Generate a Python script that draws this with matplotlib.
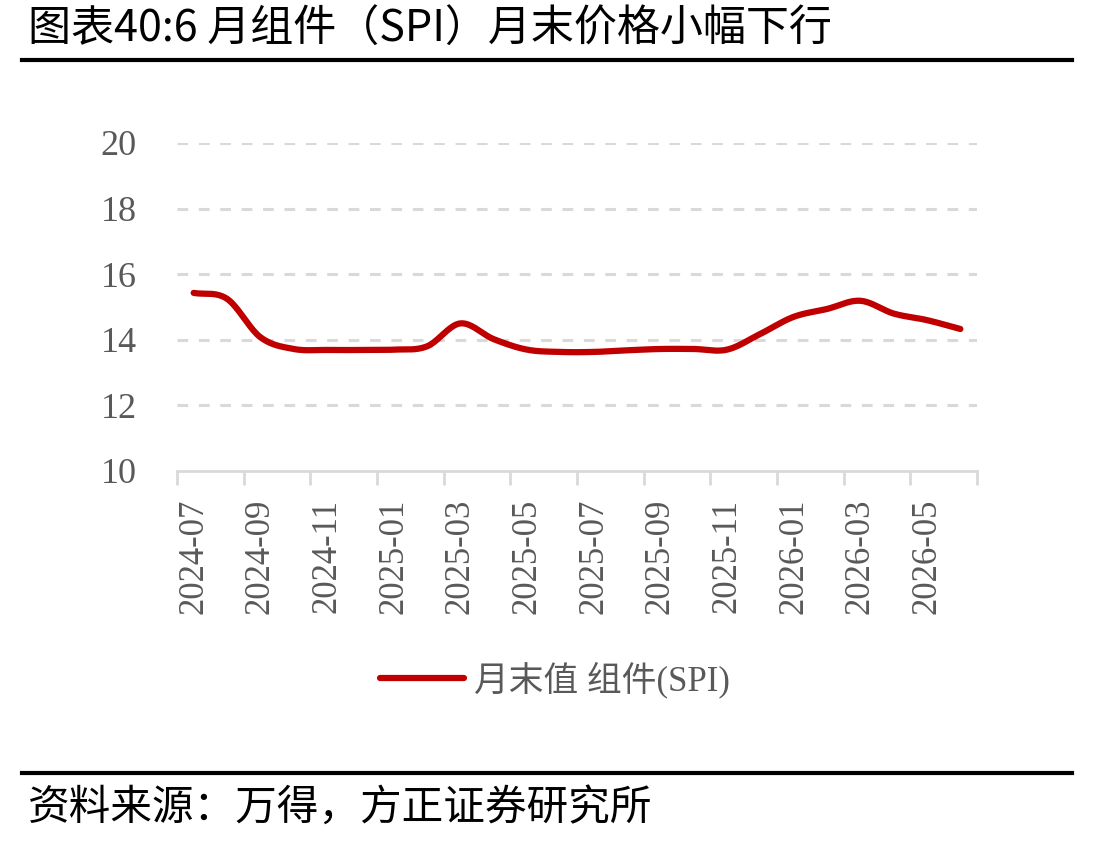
import numpy as np
import matplotlib
matplotlib.use("Agg")
import matplotlib.pyplot as plt
from matplotlib.lines import Line2D

plt.rcParams['font.family'] = ['Liberation Serif', 'Noto Sans CJK SC']

# monthly data, 2024-07 .. 2026-06
months = ["2024-07", "2024-08", "2024-09", "2024-10", "2024-11", "2024-12",
          "2025-01", "2025-02", "2025-03", "2025-04", "2025-05", "2025-06",
          "2025-07", "2025-08", "2025-09", "2025-10", "2025-11", "2025-12",
          "2026-01", "2026-02", "2026-03", "2026-04", "2026-05", "2026-06"]
spi = [15.43, 15.25, 14.08, 13.72, 13.69, 13.69,
       13.70, 13.80, 14.50, 14.02, 13.70, 13.63,
       13.63, 13.68, 13.72, 13.72, 13.70, 14.18,
       14.70, 14.94, 15.19, 14.80, 14.60, 14.33]
y_ticks = [10, 12, 14, 16, 18, 20]
series_name = "月末值 组件(SPI)"
title = "图表40:6 月组件（SPI）月末价格小幅下行"
source = "资料来源：万得，方正证券研究所"

RED = "#c00000"
GREY = "#595959"


def smooth(x, y, n=20):
    # catmull-rom curve through the points, like excel's smoothed line
    x = np.asarray(x, float)
    y = np.asarray(y, float)
    px = np.concatenate([[2 * x[0] - x[1]], x, [2 * x[-1] - x[-2]]])
    py = np.concatenate([[2 * y[0] - y[1]], y, [2 * y[-1] - y[-2]]])
    xs, ys = [], []
    t = np.linspace(0, 1, n, endpoint=False)
    for i in range(1, len(px) - 2):
        for p, out in ((px, xs), (py, ys)):
            p0, p1, p2, p3 = p[i - 1], p[i], p[i + 1], p[i + 2]
            out.extend(0.5 * ((2 * p1) + (-p0 + p2) * t
                              + (2 * p0 - 5 * p1 + 4 * p2 - p3) * t ** 2
                              + (-p0 + 3 * p1 - 3 * p2 + p3) * t ** 3))
    xs.append(x[-1])
    ys.append(y[-1])
    return np.array(xs), np.array(ys)


fig = plt.figure(figsize=(11.18, 8.44), dpi=100)
ax = fig.add_axes([177 / 1118, 1 - 471 / 844, 800 / 1118, 328 / 844])

xi = np.arange(len(months))
sx, sy = smooth(xi, spi)
ax.plot(sx, sy, color=RED, lw=4.5, solid_capstyle='round', zorder=3)

ax.set_ylim(10, 20)
ax.set_xlim(-0.5, len(months) - 0.5)
ax.set_yticks(y_ticks)
ax.set_yticklabels([str(v) for v in y_ticks], fontsize=26, color=GREY)
ax.tick_params(axis='y', length=0, pad=29)
for v in y_ticks[1:]:
    ax.axhline(v, color="#d9d9d9", lw=2.2, ls=(0, (3.5, 3.5)), zorder=1)

# category ticks at boundaries, labels every second month
ax.set_xticks(np.arange(-0.5, len(months), 2))
ax.set_xticklabels([])
ax.set_xticks(xi[::2], minor=True)
ax.set_xticklabels(months[::2], minor=True, rotation=90, fontsize=25, color=GREY)
ax.tick_params(axis='x', which='major', length=10, width=2, color="#d9d9d9", direction='out')
ax.tick_params(axis='x', which='minor', length=0, pad=20)

for s in ["top", "right", "left"]:
    ax.spines[s].set_visible(False)
ax.spines["bottom"].set_color("#d9d9d9")
ax.spines["bottom"].set_linewidth(2)

handle = Line2D([], [], color=RED, lw=4.5, solid_capstyle='round')
fig.legend([handle], [series_name], loc='center', bbox_to_anchor=(555 / 1118, 1 - 680 / 844),
           frameon=False, fontsize=25, labelcolor=GREY, handlelength=2.4, handletextpad=0.3)

fig.text(28 / 1118, 1 - 30 / 844, title, fontsize=31, va='center', ha='left',
         family=['Noto Sans CJK SC', 'DejaVu Sans'])
fig.add_artist(Line2D([22 / 1118, 1072 / 1118], [1 - 60 / 844] * 2, color='black', lw=3))
fig.add_artist(Line2D([22 / 1118, 1072 / 1118], [1 - 773 / 844] * 2, color='black', lw=3))
fig.text(28 / 1118, 1 - 808 / 844, source, fontsize=30, va='center', ha='left',
         family=['Noto Sans CJK SC', 'DejaVu Sans'])

fig.savefig("out.png", dpi=100)
